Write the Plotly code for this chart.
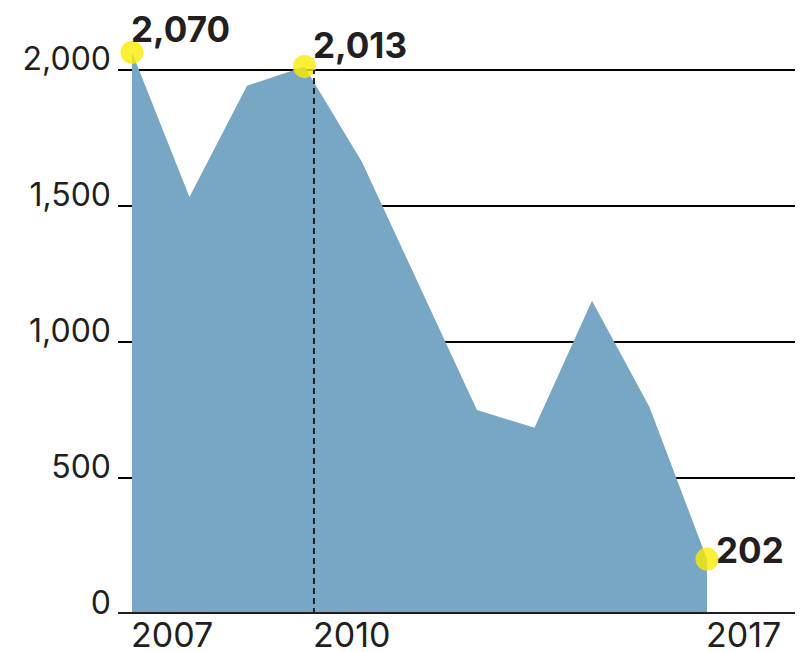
import plotly.graph_objects as go

years = [2007, 2008, 2009, 2010, 2011, 2012, 2013, 2014, 2015, 2016, 2017]
values = [2065, 1533, 1942, 2013, 1662, 1205, 750, 685, 1152, 761, 202]

highlight_years = [2007, 2010, 2017]
highlight_values = [2065, 2013, 202]
highlight_text = ["2,070", "2,013", "202"]

y_ticks = [0, 500, 1000, 1500, 2000]
y_tick_text = ["0", "500", "1,000", "1,500", "2,000"]

x_label_pos = [2007, 2010.165, 2017]
x_label_text = ["2007", "2010", "2017"]

divider_x = 2010.165

ink = "#231f20"
font_family = "Inter"

fig = go.Figure()
fig.add_trace(go.Scatter(
    x=years, y=values, mode="lines", fill="tozeroy",
    line=dict(color="#78a7c6", width=0), fillcolor="#78a7c6",
    hoverinfo="skip", showlegend=False))

fig.add_trace(go.Scatter(
    x=highlight_years, y=highlight_values, mode="markers",
    marker=dict(size=23, color="rgba(250,236,0,0.8)", line=dict(width=0)),
    hoverinfo="skip", showlegend=False))

# dashed divider
fig.add_shape(type="line", xref="x", yref="y", x0=divider_x, x1=divider_x,
              y0=0, y1=2000, line=dict(color=ink, width=2, dash="6px,4px"))
# baseline
fig.add_shape(type="line", xref="paper", yref="y", x0=0, x1=1, y0=0, y1=0,
              line=dict(color=ink, width=4))

shifts = [(-3, 23), (7, 21), (7, 9)]
for xv, yv, t, (dx, dy) in zip(highlight_years, highlight_values, highlight_text, shifts):
    fig.add_annotation(x=xv, y=yv, xref="x", yref="y", text="<b>" + t + "</b>",
                       showarrow=False, xanchor="left", yanchor="middle",
                       xshift=dx, yshift=dy,
                       font=dict(family=font_family, size=35, color=ink))

for xv, t in zip(x_label_pos, x_label_text):
    fig.add_annotation(x=xv, y=0, xref="x", yref="y", text=t, showarrow=False,
                       xanchor="left", yanchor="middle", xshift=-3, yshift=-20,
                       font=dict(family=font_family, size=34, color=ink))

fig.update_layout(
    width=811, height=644,
    margin=dict(l=110, r=0, t=0, b=38),
    paper_bgcolor="white", plot_bgcolor="white",
    xaxis=dict(range=[2006.757, 2018.948], showgrid=False, showticklabels=False,
               zeroline=False, showline=False, ticks=""),
    yaxis=dict(range=[0, 2227.9], tickvals=y_ticks, ticktext=y_tick_text,
               showgrid=True, gridcolor="black", gridwidth=2, zeroline=False,
               showline=False, ticks="", ticklabelshift=-11, ticklabelstandoff=6,
               tickfont=dict(family=font_family, size=32, color=ink)),
)

fig.write_html("out.html")
